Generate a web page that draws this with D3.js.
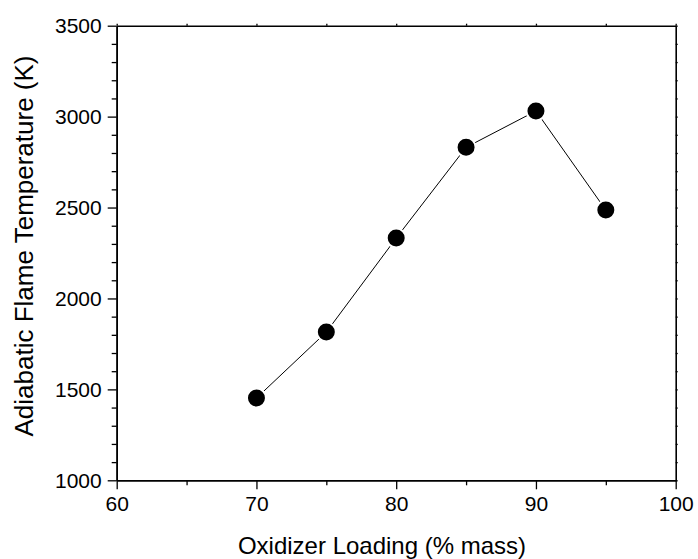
<!DOCTYPE html>
<html>
<head>
<meta charset="utf-8">
<script src="https://cdn.jsdelivr.net/npm/d3@7"></script>
<style>
  body { margin: 0; background: #fff; }
  svg { display: block; font-family: Arial, "Liberation Sans", sans-serif; }
</style>
</head>
<body>
<div id="chart"></div>
<script>
let width = 698;
let height = 559;

// oxidizer loading (% mass) vs adiabatic flame temperature (K)
const loading = [70, 75, 80, 85, 90, 95];
const flameTemp = [1452, 1815, 2332, 2831, 3031, 2486];

const xTicks = [60, 70, 80, 90, 100];
const yTicks = [1000, 1500, 2000, 2500, 3000, 3500];

const margin = {top: 25.7, right: 22.3, bottom: 78.7, left: 116.7};

let x = d3.scaleLinear().domain([60, 100]).range([margin.left, width - margin.right]);
let y = d3.scaleLinear().domain([1000, 3500]).range([height - margin.bottom, margin.top]);

let fmt = d3.format("d");

let svg = d3.select("#chart").append("svg")
  .attr("width", width)
  .attr("height", height);

let xMinor = d3.range(65, 100, 10);
let yMinor = d3.range(1100, 3500, 100).filter(d => d % 500 != 0);

function axisStyle(g) {
  g.attr("font-size", 21).attr("font-family", null);
  g.select(".domain").attr("stroke", "#000").attr("stroke-width", 1.6);
  g.selectAll(".tick line").attr("stroke", "#000").attr("stroke-width", 1.3);
  g.selectAll(".tick text").attr("fill", "#000");
}

// bottom axis, majors outward + one minor between
svg.append("g")
  .attr("transform", `translate(0,${y(1000)})`)
  .call(d3.axisBottom(x).tickValues(xTicks).tickFormat(fmt).tickSize(9).tickPadding(7).tickSizeOuter(0))
  .call(axisStyle);

svg.append("g")
  .attr("transform", `translate(0,${y(1000)})`)
  .call(d3.axisBottom(x).tickValues(xMinor).tickSize(5).tickFormat("").tickSizeOuter(0))
  .call(axisStyle);

svg.append("g")
  .attr("transform", `translate(${x(60)},0)`)
  .call(d3.axisLeft(y).tickValues(yTicks).tickFormat(fmt).tickSize(9).tickPadding(6).tickSizeOuter(0))
  .call(axisStyle);

svg.append("g")
  .attr("transform", `translate(${x(60)},0)`)
  .call(d3.axisLeft(y).tickValues(yMinor).tickSize(5).tickFormat("").tickSizeOuter(0))
  .call(axisStyle);

// top + right mirror axes with tiny ticks
svg.append("g")
  .attr("transform", `translate(0,${y(3500)})`)
  .call(d3.axisTop(x).tickValues(xTicks.concat(xMinor)).tickSize(2).tickFormat("").tickSizeOuter(0))
  .call(axisStyle);

svg.append("g")
  .attr("transform", `translate(${x(100)},0)`)
  .call(d3.axisRight(y).tickValues(yTicks.concat(yMinor)).tickSize(2).tickFormat("").tickSizeOuter(0))
  .call(axisStyle);

// connecting line
let pts = loading.map((d, i) => [d, flameTemp[i]]);

svg.append("path")
  .datum(pts)
  .attr("fill", "none")
  .attr("stroke", "#000")
  .attr("stroke-width", 1)
  .attr("d", d3.line().x(d => x(d[0])).y(d => y(d[1])));

svg.selectAll("circle.pt")
  .data(pts)
  .join("circle")
  .attr("class", "pt")
  .attr("cx", d => x(d[0]))
  .attr("cy", d => y(d[1]))
  .attr("r", 9.5)
  .attr("fill", "#000")
  .attr("stroke", "#fff")
  .attr("stroke-width", 2);

// axis titles
svg.append("text")
  .attr("x", 382)
  .attr("y", 554)
  .attr("text-anchor", "middle")
  .style("font-size", "24px")
  .text("Oxidizer Loading (% mass)");

svg.append("text")
  .attr("transform", "translate(33,246) rotate(-90)")
  .attr("text-anchor", "middle")
  .style("font-size", "26px")
  .text("Adiabatic Flame Temperature (K)");
</script>
</body>
</html>
